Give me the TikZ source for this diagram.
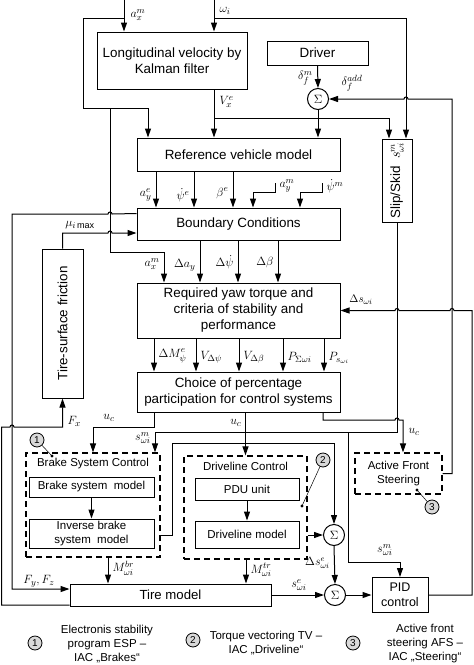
\documentclass[tikz,border=0pt]{standalone}
\usepackage{fontspec}
\setmainfont{Liberation Sans}
\usepackage{amsmath}
\usetikzlibrary{arrows.meta}

\begin{document}
\begin{tikzpicture}[x=1pt,y=-1pt,line width=1pt,
  every node/.style={inner sep=1pt},
  blk/.style={draw,rectangle,align=center,font=\fontsize{13.4}{16}\selectfont},
  sblk/.style={draw,rectangle,align=center,font=\fontsize{11.5}{14.5}\selectfont},
  dbox/.style={draw,rectangle,dash pattern=on 6pt off 4pt,line width=1.2pt},
  sigma/.style={draw,circle,minimum size=21pt,inner sep=0pt,font=\fontsize{13}{15}\selectfont},
  numc/.style={draw,circle,fill=black!15,minimum size=14pt,inner sep=0pt,line width=0.8pt,font=\fontsize{10}{12}\selectfont},
  lbl/.style={font=\fontsize{13}{15}\selectfont},
  leg/.style={align=center,font=\fontsize{11.5}{14}\selectfont},
  arr/.style={-{Triangle[length=9pt,width=6pt]}}]
\useasboundingbox (0,0) rectangle (474,665);

% blocks
\node[blk,minimum width=150pt,minimum height=57pt] (kalman) at (172,60.5) {Longitudinal velocity by\\Kalman filter};
\node[blk,minimum width=101pt,minimum height=24pt] (driver) at (317.5,53) {Driver};
\node[sigma] (sum1) at (318,99) {$\Sigma$};
\node[blk,minimum width=203pt,minimum height=33pt] (ref) at (238.5,154.5) {Reference vehicle model};
\node[blk,rotate=90,minimum width=83pt,minimum height=30pt] (slip) at (397,180.5) {Slip/Skid\ \ $s_{\omega i}^{m}$};
\node[blk,minimum width=203pt,minimum height=32pt] (bound) at (238.5,224) {Boundary Conditions};
\node[blk,rotate=90,minimum width=149pt,minimum height=41pt] (fric) at (62.5,323.5) {Tire-surface friction};
\node[blk,minimum width=203pt,minimum height=55pt] (yaw) at (238.5,310.5) {Required yaw torque and\\criteria of stability and\\performance};
\node[blk,minimum width=203pt,minimum height=40pt] (choice) at (238.5,392) {Choice of percentage\\participation for control systems};

\node[dbox,minimum width=134pt,minimum height=104pt] (brake) at (93,505) {};
\node[font=\fontsize{11.5}{14}\selectfont] (braket) at (93,464) {Brake System Control};
\node[sblk,minimum width=125pt,minimum height=20pt] (bsm) at (91.5,487) {Brake system\ \ model};
\node[sblk,minimum width=125pt,minimum height=29pt] (ibsm) at (91.5,533.5) {Inverse brake\\system\ \ model};

\node[dbox,minimum width=123pt,minimum height=103pt] (drive) at (245.5,507.5) {};
\node[font=\fontsize{11.5}{14}\selectfont] (drivet) at (245.5,466) {Driveline Control};
\node[sblk,minimum width=104pt,minimum height=22pt] (pdu) at (247,489) {PDU unit};
\node[sblk,minimum width=104pt,minimum height=27pt] (dlm) at (247,534.5) {Driveline model};
\node[sigma] (sum2) at (334,535) {$\Sigma$};

\node[dbox,align=center,font=\fontsize{11.5}{14}\selectfont,minimum width=87pt,minimum height=41pt] (afs) at (398.5,473.5) {Active Front\\Steering};

\node[blk,font=\fontsize{13.2}{16}\selectfont,minimum width=201pt,minimum height=22pt] (tire) at (170.5,595) {Tire model};
\node[sigma] (sum3) at (335,595) {$\Sigma$};
\node[blk,font=\fontsize{12.5}{15}\selectfont,minimum width=56pt,minimum height=35pt] (pid) at (400,595) {PID\\control};

% circled numbers
\node[numc] (c1) at (37,440) {1};
\node[numc] (c2) at (323,460) {2};
\node[numc] (c3) at (432,507) {3};
\coordinate (d1) at (52,456);
\coordinate (d2) at (302,506);
\coordinate (d3) at (417,490);
\foreach \c/\d in {c1/d1,c2/d2,c3/d3}{
  \draw[line width=0.5pt] (\c) -- (\d);
  \fill (\d) circle (1.6pt);
}

% inputs
\coordinate (axin) at (124,0);
\coordinate (omin) at (214,0);
\coordinate (aymin) at (275,183);
\coordinate (psimin) at (322,183);
\draw[arr] (axin) -- (kalman.north -| axin);
\draw[arr] (omin) -- (kalman.north -| omin);
\draw[arr] (124,18) -- (83,18) -- (83,108) -- (148,108) -- (ref.north -| 148,0);
\draw[arr] (110,108) -- (110,252) -| (yaw.north -| 164,0);
\draw[arr] (214,18) -- (406,18) -- (slip.east -| 406,0);
\draw[arr] (kalman.south -| omin) -- (ref.north -| omin);
\draw[arr] (214,118) -- (389,118) -- (slip.east -| 389,0);
\draw[arr] (driver.south) -- (sum1.north);
\draw[arr] (sum1.south) -- (ref.north -| sum1);
\draw[arr] (afs.east) -- (452,473.5) -- (452,99) -- (408,99) arc[start angle=0,end angle=180,radius=2pt] -- (sum1.east);

% main chain
\foreach \x in {156,194,233}
  \draw[arr] (ref.south -| \x,0) -- (bound.north -| \x,0);
\draw[arr] (aymin) -- (275,192) -| (bound.north -| 253,0);
\draw[arr] (psimin) -- (322,192) -| (bound.north -| 300,0);
\foreach \x in {200,238,278}
  \draw[arr] (bound.south -| \x,0) -- (yaw.north -| \x,0);
\foreach \x in {154,196,239,283,324}
  \draw[arr] (yaw.south -| \x,0) -- (choice.north -| \x,0);

% tire loops
\draw[arr] ([yshift=-6pt]bound.north west) -- (112,214) arc[start angle=0,end angle=180,radius=2pt] -- (12,214) -- (12,589) -- ([yshift=6pt]tire.west);
\draw[arr] (fric.east) -- (62.5,233) -- (108,233) arc[start angle=180,end angle=0,radius=2pt] -- ([yshift=-9pt]bound.west);
\draw[arr] ([yshift=-10pt]tire.west) -- (1.5,605) -- (1.5,427) -- (10,427) arc[start angle=180,end angle=0,radius=2pt] -| (fric.west);
\draw[arr] (pid.east) -- (472,595) -- (472,310.5) -- (454,310.5) arc[start angle=0,end angle=180,radius=2pt] -- (399,310.5) arc[start angle=0,end angle=180,radius=2pt] -- (yaw.east);

% slip/skid and choice outputs
\draw[arr] (slip.west) -- (397,432) -- (155,432) -- (brake.north -| 155,0);
\draw[arr] (348,432) -- (348,562) -| (pid.north);
\draw[arr] (choice.south -| 154,0) -- (154,427) -| (brake.north);
\draw[arr] (choice.south -| drive.north) -- (drive.north);
\draw[arr] (choice.south -| 323,0) -- (323,420) -- (395,420) arc[start angle=180,end angle=0,radius=2pt] -| (afs.north -| 403,0);

% control systems
\draw[arr] (bsm.south) -- (ibsm.north);
\draw[arr] (pdu.south) -- (dlm.north);
\draw[arr] ([yshift=-30pt]brake.east) -- (172,535) -- (172,443) -| (sum2.north);
\draw[arr] ([yshift=-27.5pt]drive.east) -- (sum2.west);
\draw[arr] (brake.south -| 108,0) -- (tire.north -| 108,0);
\draw[arr] (drive.south -| 246,0) -- (tire.north -| 246,0);
\draw[arr] (sum2.south) -- (sum3.north);
\draw[arr] (tire.east) -- (sum3.west);
\draw[arr] (sum3.east) -- (pid.west);

% labels
\node[lbl,anchor=west] (laxm) at (129,15) {$a_x^m$};
\node[lbl,anchor=west] (lom) at (218,11) {$\omega_i$};
\node[lbl,anchor=west] (lvx) at (218,102) {$V_x^e$};
\node[lbl,anchor=east] (ldfm) at (314,78) {$\delta_f^m$};
\node[lbl] (ldfa) at (352,83) {$\delta_f^{add}$};
\node[lbl,anchor=east] (laye) at (153,195) {$a_y^e$};
\node[lbl,anchor=east] (lpse) at (191,195) {$\dot\psi^e$};
\node[lbl,anchor=east] (lbte) at (230,193) {$\beta^e$};
\node[lbl,anchor=west] (laym) at (278,186) {$a_y^m$};
\node[lbl,anchor=west] (lpsm) at (325,186) {$\dot\psi^m$};
\node[lbl] (lmu) at (80,225) {$\mu_{i\,\mathrm{max}}$};
\node[lbl,anchor=east] (laxm2) at (161,264) {$a_x^m$};
\node[lbl,anchor=east] (lday) at (197,265) {$\Delta a_y$};
\node[lbl,anchor=east] (ldps) at (235,262) {$\Delta\dot\psi$};
\node[lbl,anchor=east] (ldbt) at (275,262) {$\Delta\beta$};
\node[lbl,anchor=west] (ldM) at (157,356) {$\Delta M_{\psi}^{e}$};
\node[lbl,anchor=west] (lVdp) at (199,357) {$V_{\Delta\psi}$};
\node[lbl,anchor=west] (lVdb) at (242,357) {$V_{\Delta\beta}$};
\node[lbl,anchor=west] (lPs) at (286,357) {$P_{\Sigma\omega i}$};
\node[lbl,anchor=west] (lPw) at (327,358) {$P_{s_{\omega i}}$};
\node[lbl,font=\fontsize{11}{13}\selectfont] (lds) at (361,300) {$\Delta s_{\omega i}$};
\node[lbl,anchor=west] (lFx) at (66,421) {$F_x$};
\node[lbl] (luc1) at (109,418) {$u_c$};
\node[lbl,anchor=east] (luc2) at (243,423) {$u_c$};
\node[lbl,anchor=west] (luc3) at (407,432) {$u_c$};
\node[lbl,anchor=east] (lsm1) at (152,438) {$s_{\omega i}^m$};
\node[lbl,anchor=west] (lMbr) at (111,568) {$M_{\omega i}^{br}$};
\node[lbl,anchor=west] (lMtr) at (249,570) {$M_{\omega i}^{tr}$};
\node[lbl,anchor=east,font=\fontsize{11.5}{13}\selectfont] (ldse) at (331,563) {$\Delta s_{\omega i}^e$};
\node[lbl] (lse) at (299,585) {$s_{\omega i}^e$};
\node[lbl,anchor=east] (lsm2) at (394,550) {$s_{\omega i}^m$};
\node[lbl] (lFyz) at (39,581) {$F_y,F_z$};

% legend
\node[numc] (l1) at (35,643) {1};
\node[leg] (l1t) at (107,644) {Electronis stability\\program ESP --\\IAC „Brakes“};
\node[numc] (l2) at (193,640) {2};
\node[leg] (l2t) at (266,643) {Torque vectoring TV --\\IAC „Driveline“};
\node[numc] (l3) at (353,643) {3};
\node[leg] (l3t) at (425,644) {Active front\\steering AFS --\\IAC „Steering“};

\end{tikzpicture}
\end{document}
